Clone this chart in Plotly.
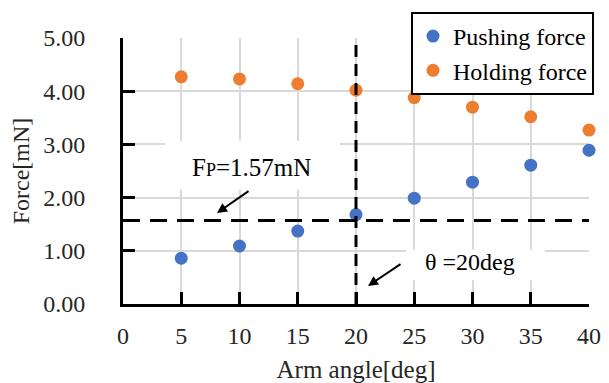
import plotly.graph_objects as go

# Data
arm_angle = [5, 10, 15, 20, 25, 30, 35, 40]
pushing_force = [0.86, 1.09, 1.37, 1.68, 1.99, 2.29, 2.61, 2.89]
holding_force = [4.27, 4.23, 4.14, 4.02, 3.88, 3.70, 3.52, 3.27]
fp_value = 1.57
theta_value = 20
x_ticks = [0, 5, 10, 15, 20, 25, 30, 35, 40]
y_ticks = [0, 1, 2, 3, 4, 5]

FONT = "Liberation Serif, Times New Roman, serif"
BLUE = "#4472C4"
ORANGE = "#ED7D31"

W, H = 601, 375  # page body adds an 8px offset

fig = go.Figure()
fig.add_trace(go.Scatter(x=arm_angle, y=pushing_force, mode="markers", name="Pushing force",
                         marker=dict(color=BLUE, size=13), cliponaxis=False))
fig.add_trace(go.Scatter(x=arm_angle, y=holding_force, mode="markers", name="Holding force",
                         marker=dict(color=ORANGE, size=13), cliponaxis=False))

# white boxes behind annotation texts (hide gridlines)
fig.add_shape(type="rect", xref="x", yref="y", x0=3.6, x1=18.6, y0=2.15, y1=3.07,
              fillcolor="white", line=dict(width=0), layer="between")
fig.add_shape(type="rect", xref="x", yref="y", x0=24.3, x1=36.2, y0=0.45, y1=1.02,
              fillcolor="white", line=dict(width=0), layer="between")

# dashed reference lines
fig.add_shape(type="line", xref="x", yref="y", x0=0, x1=40, y0=fp_value, y1=fp_value,
              line=dict(color="black", width=3, dash="17px,10px"))
fig.add_shape(type="line", xref="x", yref="y", x0=theta_value, x1=theta_value, y0=0, y1=5,
              line=dict(color="black", width=3, dash="12px,7px"))

fig.add_annotation(x=8.07, y=1.71, ax=10.9, ay=2.14, axref="x", ayref="y",
                   xref="x", yref="y", text="", showarrow=True, arrowhead=2,
                   arrowsize=1, arrowwidth=2, arrowcolor="black")
fig.add_annotation(xref="x", yref="y", x=11.07, y=2.575,
                   text="F<span style='font-size:18px'>P</span>=1.57mN",
                   showarrow=False, font=dict(family=FONT, size=25, color="black"))
fig.add_annotation(x=21.03, y=0.34, ax=23.95, ay=0.77, axref="x", ayref="y",
                   xref="x", yref="y", text="", showarrow=True, arrowhead=2,
                   arrowsize=1, arrowwidth=2, arrowcolor="black")
fig.add_annotation(xref="x", yref="y", x=29.8, y=0.79, text="θ =20deg",
                   showarrow=False, font=dict(family=FONT, size=24, color="black"))

fig.update_xaxes(range=[0, 40], tickvals=x_ticks, ticktext=[str(v) for v in x_ticks],
                 showgrid=True, gridcolor="#d9d9d9", gridwidth=1.5,
                 showline=True, linecolor="black", linewidth=3,
                 ticks="inside", ticklen=12, tickwidth=3, tickcolor="black",
                 zeroline=False, automargin=False, ticklabelstandoff=8,
                 tickfont=dict(family=FONT, size=24, color="#262626"),
                 title=dict(text="Arm angle[deg]", font=dict(family=FONT, size=25, color="#262626"), standoff=14))
fig.update_yaxes(range=[0, 5], tickvals=y_ticks, ticktext=[f"{v:.2f}" for v in y_ticks],
                 showgrid=True, gridcolor="#d9d9d9", gridwidth=1.5,
                 showline=True, linecolor="black", linewidth=3,
                 ticks="inside", ticklen=12, tickwidth=3, tickcolor="black",
                 zeroline=False, automargin=False, ticklabelstandoff=30,
                 tickfont=dict(family=FONT, size=24, color="#262626"),
                 title=dict(text="Force[mN]", font=dict(family=FONT, size=24, color="#262626"), standoff=11))

fig.update_layout(
    width=W, height=H,
    margin=dict(l=115, r=20, t=30, b=79, autoexpand=False),
    paper_bgcolor="white", plot_bgcolor="white",
    legend=dict(x=403 / W, y=1 - 4 / H, xref="container", yref="container",
                xanchor="left", yanchor="top",
                bgcolor="white", bordercolor="black", borderwidth=2,
                font=dict(family=FONT, size=24, color="black"),
                itemwidth=30, tracegroupgap=0),
    showlegend=True,
)

fig.write_html("out.html")
